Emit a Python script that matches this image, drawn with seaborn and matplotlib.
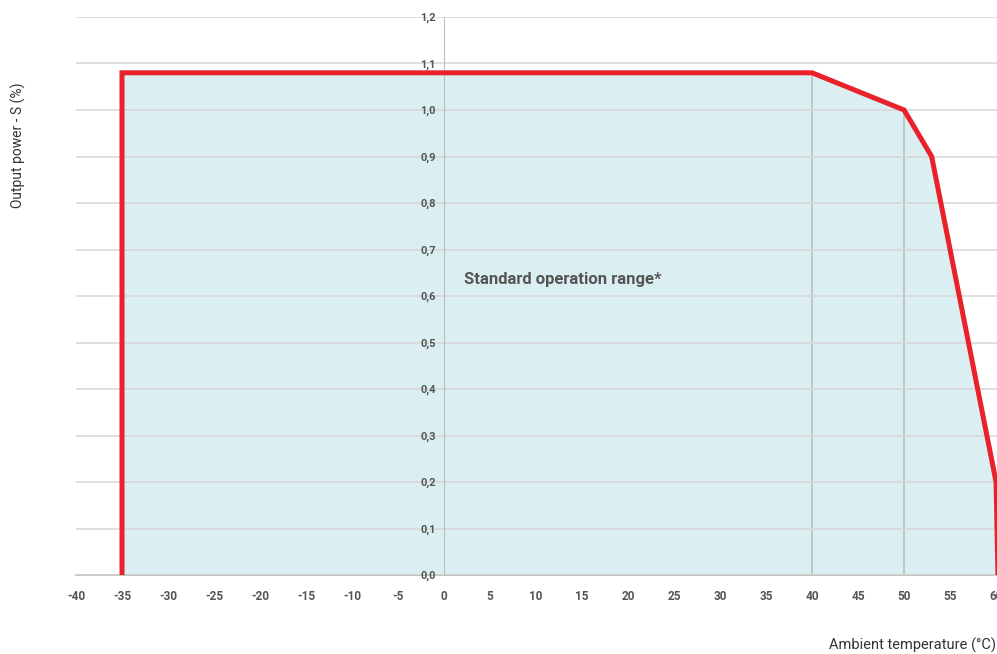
import matplotlib
matplotlib.use("Agg")
from matplotlib import pyplot as plt
import pandas as pd
import seaborn as sns

# derating curve (temperature in °C, output power as fraction)
temp = [-35, -35, 40, 50, 53, 60, 60.2]
power = [0.0, 1.08, 1.08, 1.0, 0.9, 0.2, 0.0]
x_ticks = list(range(-40, 65, 5))
y_ticks = [round(i * 0.1, 1) for i in range(13)]
guide_temps = [40, 50]
guide_tops = [1.08, 1.0]

df = pd.DataFrame({"temp": temp, "power": power})

sns.set_style("white")
plt.rcParams["font.family"] = ["Roboto", "DejaVu Sans"]

fig = plt.figure(figsize=(9.97, 6.54), dpi=100)
ax = fig.add_axes([76 / 997, 1 - 575 / 654, 921 / 997, 558 / 654])

ax.fill_between(df["temp"], 0, df["power"], color="#dbeff2", zorder=1, lw=0)
for t, top in zip(guide_temps, guide_tops):
    ax.plot([t, t], [0, top], color="#bdbdbd", lw=1.2, zorder=2)

sns.lineplot(data=df, x="temp", y="power", sort=False, estimator=None,
             color="#e8212b", lw=3.6, ax=ax, zorder=4, solid_joinstyle="miter")

ax.set_xlim(-40, 60.1)
ax.set_ylim(0, 1.2)
ax.set_xticks(x_ticks)
ax.set_xticklabels([str(v) for v in x_ticks])
ax.set_yticks(y_ticks)
ax.set_yticklabels([f"{v:.1f}".replace(".", ",") for v in y_ticks])

ax.yaxis.grid(True, color="#d6d6d6", lw=1.1)
ax.set_axisbelow(False)
ax.xaxis.set_zorder(2.5)
ax.yaxis.set_zorder(2.5)
for s in ["top", "right"]:
    ax.spines[s].set_visible(False)
ax.spines["left"].set_position(("data", 0))
ax.spines["left"].set_color("#bdbdbd")
ax.spines["left"].set_zorder(3)
ax.spines["bottom"].set_color("#bdbdbd")
ax.spines["bottom"].set_linewidth(1.2)
ax.tick_params(axis="x", direction="out", length=5, width=1.1, color="#bdbdbd",
               labelsize=8.5, labelcolor="#555555", pad=6)
ax.tick_params(axis="y", direction="out", length=5, width=1.1, color="#bdbdbd",
               labelsize=8, labelcolor="#555555", pad=1)
for lbl in ax.get_xticklabels() + ax.get_yticklabels():
    lbl.set_fontweight("bold")

ax.set_xlabel("")
ax.set_ylabel("")
fig.text(18 / 997, 1 - 145 / 654, "Output power - S (%)", rotation=90,
         ha="center", va="center", fontsize=10, color="#333333")
fig.text(996 / 997, 1 - 645 / 654, "Ambient temperature (°C)", ha="right",
         va="center", fontsize=10.5, color="#333333")
ax.text(2.2, 0.635, "Standard operation range*", fontsize=12, fontweight="bold",
        color="#555555", va="center", zorder=5)

fig.savefig("out.png", dpi=100)
